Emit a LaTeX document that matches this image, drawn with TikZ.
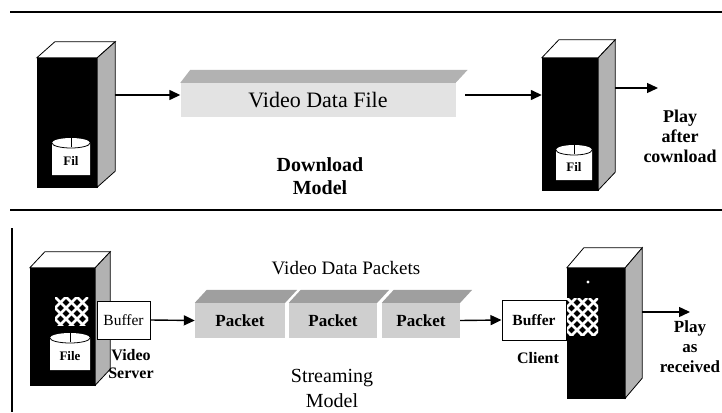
\documentclass[tikz,border=0pt]{standalone}
\usepackage{fontspec}
\setmainfont{Liberation Serif}
\usetikzlibrary{arrows.meta,calc}

% a box-shaped machine: white top and grey side drawn behind a black front node
\newcommand\servertower[3]{%
  \filldraw[fill=white,draw=black,line width=0.8pt]
    (#1.north west) -- ++(#2,#3) -- ($(#1.north east)+(#2,#3)$) -- (#1.north east) -- cycle;
  \filldraw[fill=gray!60,draw=black,line width=0.8pt]
    (#1.north east) -- ++(#2,#3) -- ($(#1.south east)+(#2,#3)$) -- (#1.south east) -- cycle;}

% a white disk cylinder: left x, right x, top y, bottom y
\newcommand\diskdrum[4]{%
  \pgfmathsetmacro\drumr{(#2-#1)/2}
  \fill[white] (#1,#3+5) -- (#1,#4) -- (#2,#4) -- (#2,#3+5)
    arc[start angle=0,end angle=-180,x radius=\drumr,y radius=5] -- cycle;
  \draw[black,line width=0.8pt] (#1,#3+5) arc[start angle=180,end angle=0,x radius=\drumr,y radius=5];
  \draw[black,line width=0.8pt] ({(#1+#2)/2},#3) -- ({(#1+#2)/2},#3+9);}

% a black panel crossed by a white diagonal mesh
\newcommand\meshpanel[4]{%
  \begin{scope}
    \clip (#1,#3) rectangle (#2,#4);
    \fill[black] (#1,#3) rectangle (#2,#4);
    \foreach \k in {-66,-55,...,66}{
      \draw[white,line width=2.6pt] (#1+\k,#3) -- ++(50,50);
      \draw[white,line width=2.6pt] (#2-\k,#3) -- ++(-50,50);}
  \end{scope}}

\tikzset{
  tower/.style 2 args={fill=black,draw=black,inner sep=0pt,minimum width=#1,minimum height=#2},
  conn/.style={line width=1.4pt,-{Triangle[length=11pt,width=10pt]}},
  bufbox/.style 2 args={draw=black,line width=1pt,fill=white,inner sep=0pt,
    minimum width=#1,minimum height=#2,font=\fontsize{15.5}{17}\selectfont},
  pktfront/.style={fill=gray!38,inner sep=0pt,minimum height=35,
    font=\bfseries\fontsize{17}{19}\selectfont},
  pkttop/.style={fill=gray!75},
  lbl/.style={align=center,font=\fontsize{19}{22}\selectfont},
  blbl/.style={align=center,font=\bfseries\fontsize{18}{20}\selectfont},
  rule/.style={line width=1.8pt},
  disklbl/.style={font=\bfseries\fontsize{13}{15}\selectfont}
}

\begin{document}
\begin{tikzpicture}[x=1pt,y=-1pt]
\useasboundingbox (0,0) rectangle (722,412);

% ---------- download model ----------
\draw[rule] (10,12) -- (722,12);

\node[tower={60}{129}] (srvA) at (67,122.5) {};
\servertower{srvA}{18}{-16}
\diskdrum{52}{90}{138}{175}
\node[disklbl] at (71,161) {Fil};

\node[fill=gray!22,inner sep=0pt,minimum width=275,minimum height=34,
  font=\fontsize{22}{24}\selectfont] (vfile) at (318,100) {Video Data File};
\fill[gray!60] (vfile.north west) -- ++(10,-13) -- ($(vfile.north east)+(12,-13)$)
  -- (vfile.north east) -- cycle;

\coordinate (srvAout) at (115,95);
\draw[conn] (srvAout) -- (srvAout -| vfile.west);

\node[tower={56}{132}] (srvB) at (570,124) {};
\servertower{srvB}{17}{-18}
\diskdrum{556}{592}{145}{180}
\node[disklbl] at (574,167) {Fil};

\coordinate (vfileout) at (465,95);
\draw[conn] (vfileout) -- (vfileout -| srvB.west);

\coordinate (srvBout) at (615,88);
\coordinate (playA) at (658,88);
\draw[conn] (srvBout) -- (playA);

\node[blbl,font=\bfseries\fontsize{20}{23}\selectfont] (dlmodel) at (320,176) {Download\\Model};
\node[blbl] (playafter) at (680,136) {Play\\after\\cownload};

% ---------- streaming model ----------
\draw[rule] (10,210) -- (722,210);
\draw[line width=1.4pt] (12,228) -- (12,412);

\node[tower={65}{117}] (srvC) at (62.5,326.5) {};
\servertower{srvC}{15}{-16}
\meshpanel{55}{88}{297}{325}
\diskdrum{50}{90}{333}{370}
\node[disklbl] at (70,356) {File};

\node[bufbox={53}{38}] (bufL) at (123.5,320) {Buffer};
\node[blbl,font=\bfseries\fontsize{16}{18}\selectfont] (vserver) at (131,364) {Video\\Server};

% packets in flight
\node[pktfront,minimum width=90] (p1) at (240,320.5) {Packet};
\node[pktfront,minimum width=88] (p2) at (333,320.5) {Packet};
\node[pktfront,minimum width=78] (p3) at (421,320.5) {Packet};
\foreach \p in {p1,p2,p3}{
  \fill[pkttop] (\p.north west) -- ++(12,-13) -- ($(\p.north east)+(12,-13)$)
    -- (\p.north east) -- cycle;}
\node[lbl] (vdp) at (346,268) {Video Data Packets};

\draw[conn] (bufL.east) -- (p1.west);

\node[tower={58}{130}] (srvD) at (596,333) {};
\servertower{srvD}{17}{-20}
\meshpanel{567}{598}{298}{335}
\fill[white] (588,282) circle (1.6);

\node[bufbox={64}{40},font=\bfseries\fontsize{15.5}{17}\selectfont] (bufR) at (534,320) {Buffer};
\draw[conn] (p3.east) -- (bufR.west);

\coordinate (srvDout) at (642,312);
\coordinate (playB) at (690,312);
\draw[conn] (srvDout) -- (playB);

\node[blbl,font=\bfseries\fontsize{16}{18}\selectfont] (client) at (538,358) {Client};
\node[blbl,font=\bfseries\fontsize{17}{20}\selectfont] (playas) at (690,347) {Play\\as\\received};
\node[lbl,font=\fontsize{20}{25}\selectfont] (stmodel) at (332,388) {Streaming\\Model};
\end{tikzpicture}
\end{document}
